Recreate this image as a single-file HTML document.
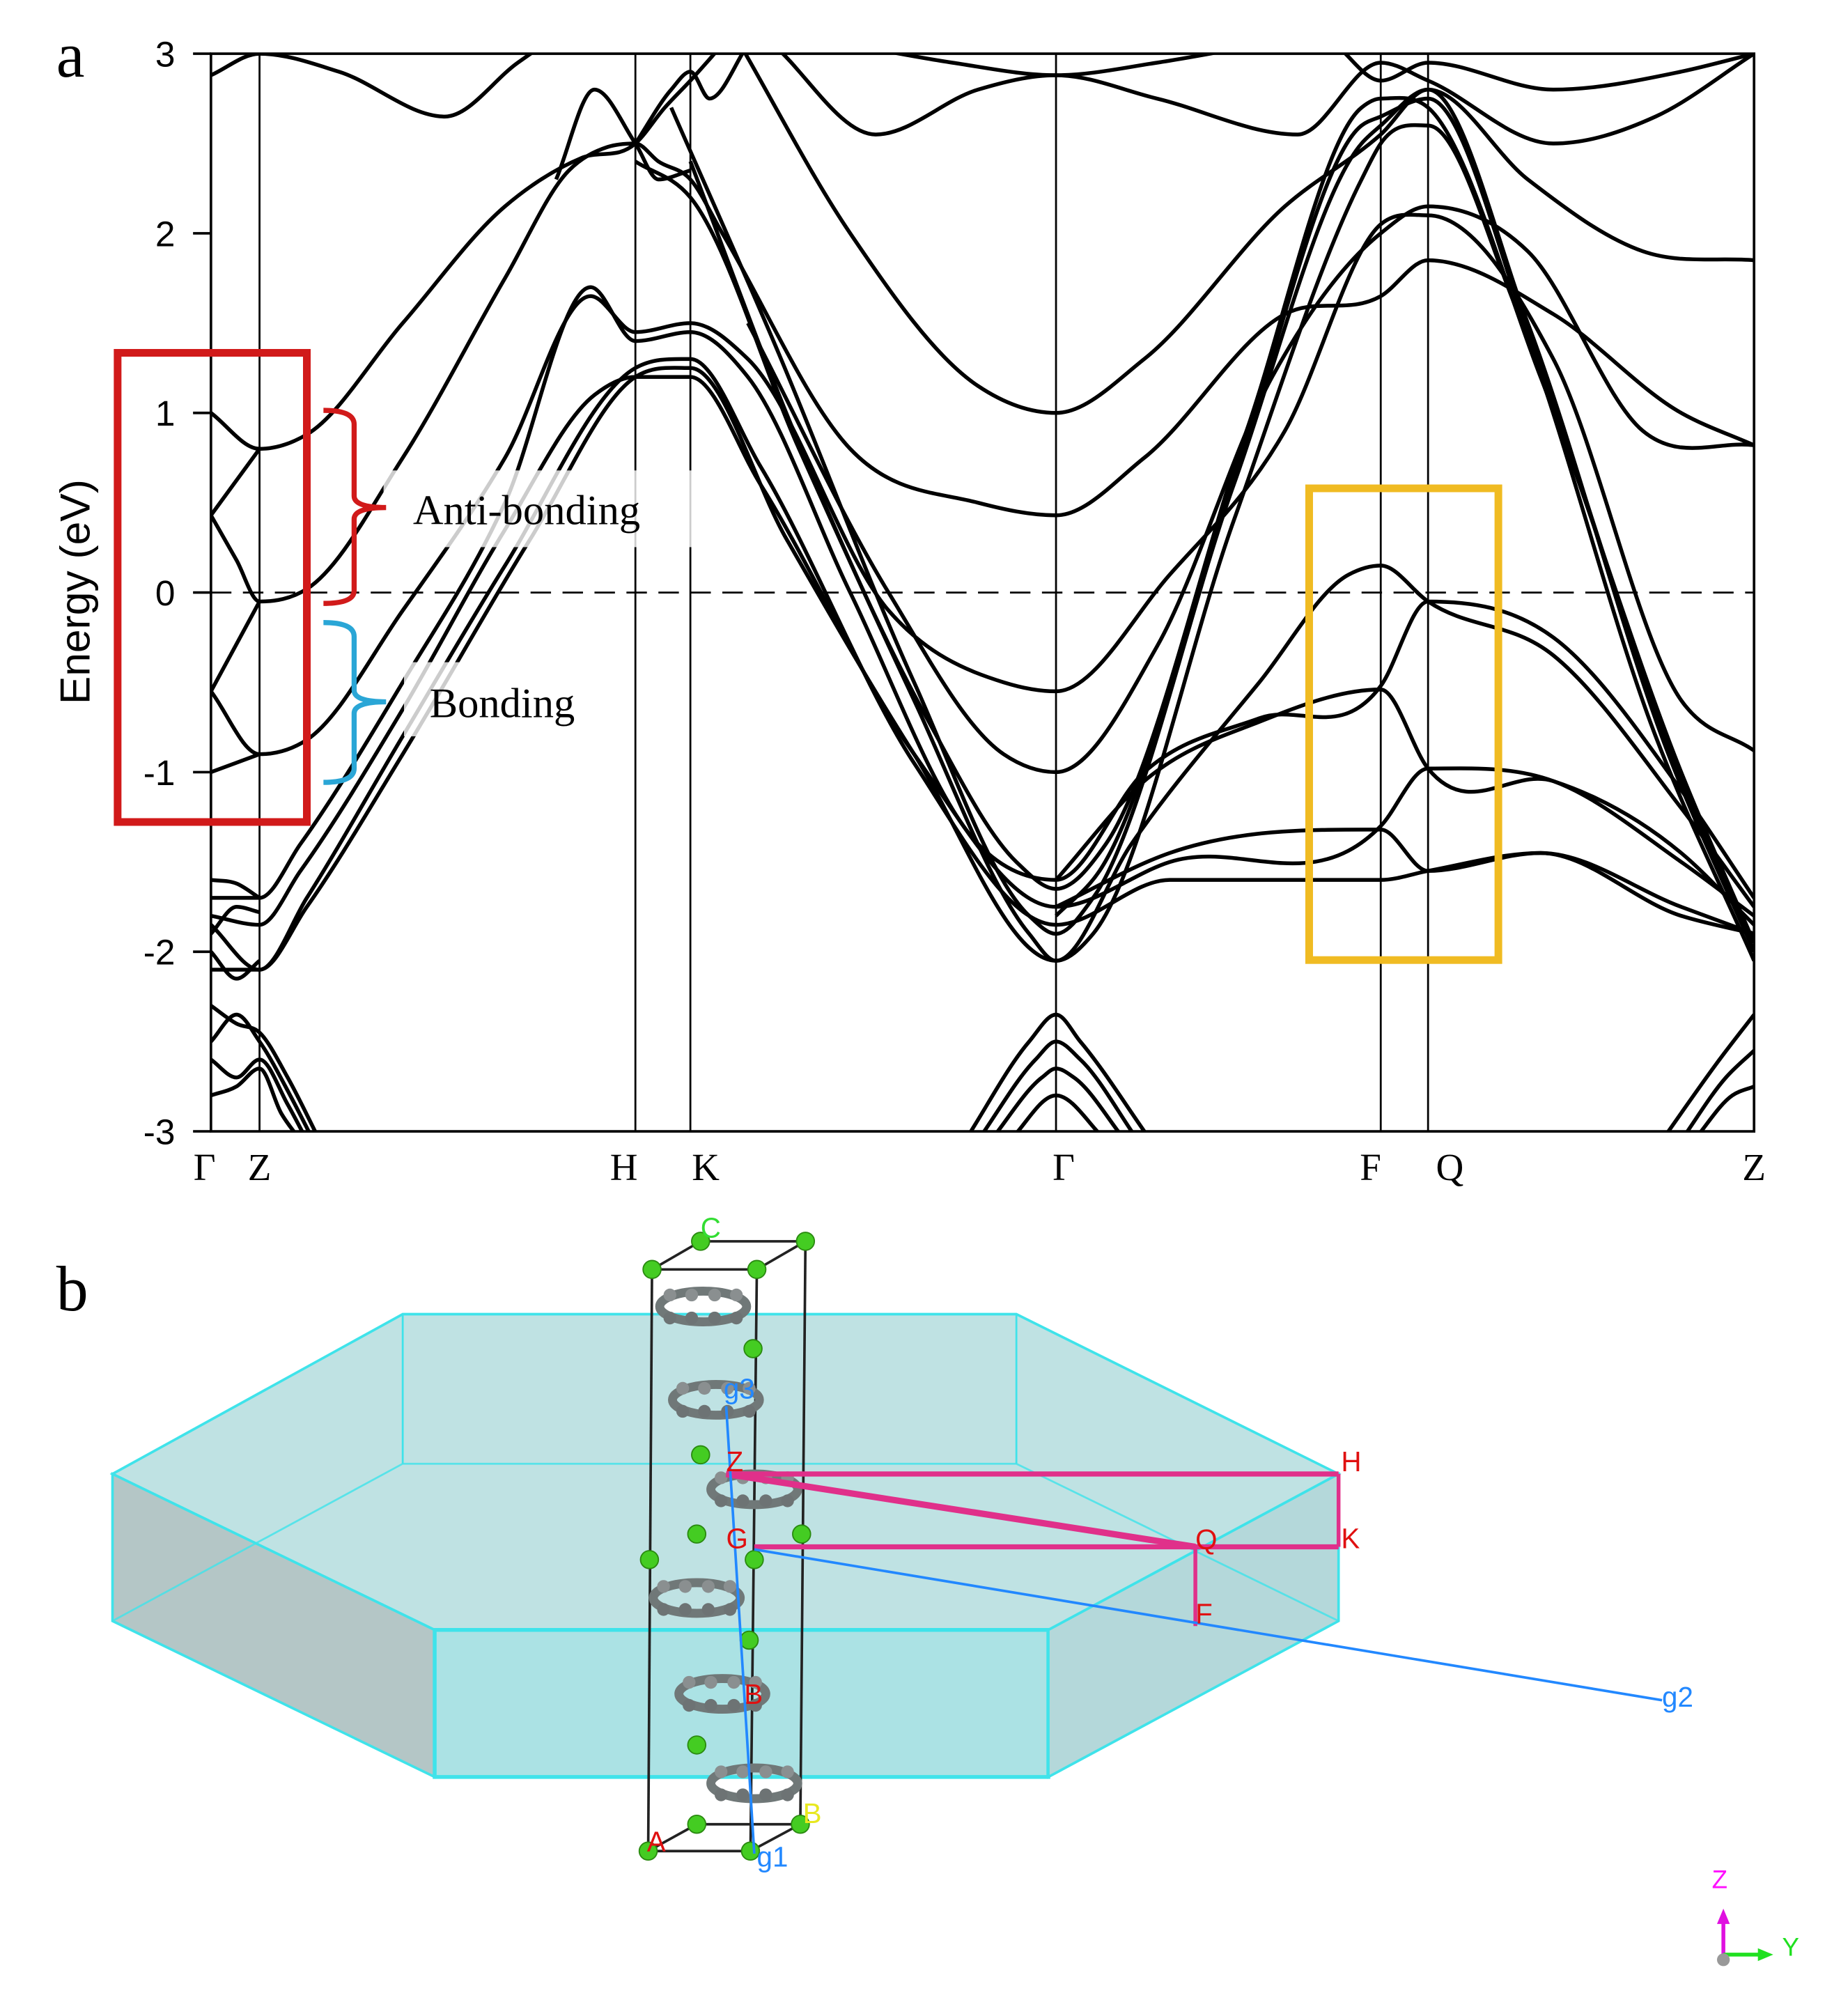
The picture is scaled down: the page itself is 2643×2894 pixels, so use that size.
<!DOCTYPE html>
<html><head><meta charset="utf-8"><style>
html,body{margin:0;padding:0;background:#fff;}
svg{display:block;}
</style></head><body>
<svg id="fig" xmlns="http://www.w3.org/2000/svg" width="2643" height="2894" viewBox="0 0 1440 1577" preserveAspectRatio="none">
<defs><clipPath id="plotclip"><rect x="165" y="42" width="1207" height="843"/></clipPath></defs>
<rect x="0" y="0" width="1440" height="1577" fill="#fff"/>
<g id="chart">
  <text x="44" y="60" font-family="Liberation Serif, serif" font-size="50">a</text>
  <text transform="translate(70,463) rotate(-90)" text-anchor="middle" font-family="Liberation Sans, sans-serif" font-size="33">Energy (eV)</text>
  <g id="bands" clip-path="url(#plotclip)"></g>
  <g id="axes"></g>
</g>

<g id="annotations">
  <rect x="300" y="368" width="242" height="60" fill="#fff" opacity="0.8"/>
  <rect x="316" y="518" width="150" height="58" fill="#fff" opacity="0.8"/>
  <rect x="92" y="276" width="148" height="367" fill="none" stroke="#d11a1a" stroke-width="6"/>
  <rect x="1024" y="382" width="148" height="369" fill="none" stroke="#f0bb22" stroke-width="6"/>
  <path d="M253,321 Q277,321 277,332 L277,388 Q277,397 302,397 Q277,397 277,406 L277,462 Q277,472 253,472" fill="none" stroke="#d11a1a" stroke-width="4"/>
  <path d="M253,487 Q277,487 277,498 L277,540 Q277,549 302,549 Q277,549 277,558 L277,601 Q277,612 253,612" fill="none" stroke="#2aa6d6" stroke-width="4"/>
  <text x="323" y="410" font-family="Liberation Serif, serif" font-size="33">Anti-bonding</text>
  <text x="336" y="561" font-family="Liberation Serif, serif" font-size="33">Bonding</text>
</g>

<g id="panel-b">
  <text x="44" y="1025" font-family="Liberation Serif, serif" font-size="50">b</text>
  <polygon points="88,1153 315,1028 795,1028 1047,1153 820,1275 340,1275" fill="#bfe2e3" stroke="#3fe3ea" stroke-width="2"/>
  <polygon points="88,1153 340,1275 340,1390 88,1268" fill="#b4c6c6" stroke="#3fe3ea" stroke-width="2"/>
  <polygon points="340,1275 820,1275 820,1390 340,1390" fill="#abe2e4" stroke="#3fe3ea" stroke-width="3"/>
  <polygon points="820,1275 1047,1153 1047,1268 820,1390" fill="#b4d8da" stroke="#3fe3ea" stroke-width="2"/>
  <polyline points="88,1268 315,1145 795,1145 1047,1268" fill="none" stroke="#3fe3ea" stroke-width="1.5" opacity="0.8"/>
  <line x1="315" y1="1028" x2="315" y2="1145" stroke="#3fe3ea" stroke-width="1.5"/>
  <line x1="795" y1="1028" x2="795" y2="1145" stroke="#3fe3ea" stroke-width="1.5"/>
  <g stroke="#222" stroke-width="2" fill="none">
    <polygon points="510,993 592,993 630,971 548,971"/>
    <polygon points="507,1448 587,1448 626,1427 545,1427"/>
    <line x1="510" y1="993" x2="507" y2="1448"/><line x1="592" y1="993" x2="587" y2="1448"/><line x1="630" y1="971" x2="626" y2="1427"/>
  </g>
  <g id="molecules"></g>
  <g id="atoms"></g>
  <g stroke="#e0308a" fill="none">
    <line x1="568" y1="1153" x2="1047" y2="1153" stroke-width="4"/>
    <line x1="568" y1="1153" x2="935" y2="1210" stroke-width="5"/>
    <line x1="590" y1="1210" x2="1047" y2="1210" stroke-width="4"/>
    <line x1="1047" y1="1153" x2="1047" y2="1210" stroke-width="3"/>
    <line x1="935" y1="1210" x2="935" y2="1272" stroke-width="3"/>
  </g>
  <line x1="590" y1="1212" x2="1300" y2="1330" stroke="#2288ff" stroke-width="2"/>
  <line x1="568" y1="1100" x2="590" y2="1450" stroke="#2288ff" stroke-width="2"/>
  <g font-family="Liberation Sans, sans-serif" font-size="22">
    <text x="1049" y="1151" fill="#e01010">H</text>
    <text x="1049" y="1211" fill="#e01010">K</text>
    <text x="935" y="1212" fill="#e01010">Q</text>
    <text x="935" y="1270" fill="#e01010">F</text>
    <text x="568" y="1151" fill="#e01010">Z</text>
    <text x="568" y="1211" fill="#e01010">G</text>
    <text x="582" y="1333" fill="#e01010">B</text>
    <text x="1300" y="1335" fill="#2288ff">g2</text>
    <text x="592" y="1460" fill="#2288ff">g1</text>
    <text x="566" y="1094" fill="#2288ff">g3</text>
    <text x="506" y="1448" fill="#e01010">A</text>
    <text x="628" y="1426" fill="#e8e820">B</text>
    <text x="548" y="968" fill="#33dd33">C</text>
  </g>
  <g>
    <text x="1339" y="1477" fill="#ff10ff" font-family="Liberation Sans, sans-serif" font-size="20">Z</text>
    <line x1="1348" y1="1530" x2="1348" y2="1500" stroke="#e010e0" stroke-width="3"/>
    <polygon points="1348,1493 1343,1505 1353,1505" fill="#e010e0"/>
    <line x1="1348" y1="1529" x2="1378" y2="1529" stroke="#20e020" stroke-width="3"/>
    <polygon points="1387,1529 1375,1524 1375,1534" fill="#20e020"/>
    <text x="1394" y="1530" fill="#20e020" font-family="Liberation Sans, sans-serif" font-size="20">Y</text>
    <circle cx="1348" cy="1533" r="5" fill="#999"/>
  </g>
</g>

<script>
// ---- chart data ----
const kTickPos = [0, 0.38, 3.32, 3.75, 6.61, 9.15, 9.52, 12.07];
const kTickLabels = ["Γ", "Z", "H", "K", "Γ", "F", "Q", "Z"];
const yTicks = [3, 2, 1, 0, -1, -2, -3];
const bandTop1 = [[0,2.88],[0.38,3.0],[1.0,2.9],[1.83,2.65],[2.4,2.95],[2.6,3.05]];
const bandA = [[0,1.0],[0.38,0.8],[0.75,0.88],[1.5,1.5],[2.3,2.15],[2.9,2.42],[3.32,2.5],[3.55,2.7],[3.75,2.85],[4.0,3.05]];
const bandShort1 = [[0,0.43],[0.38,0.8]];
const bandB = [[0,0.43],[0.2,0.18],[0.38,-0.05],[0.75,0.02],[1.5,0.75],[2.3,1.75],[2.8,2.35],[3.1,2.48],[3.32,2.5],[3.5,2.4],[3.75,2.3],[4.0,2.0],[5.0,0.8],[6.0,0.5],[6.61,0.43],[7.3,0.75],[8.4,1.55],[9.15,1.65],[9.52,1.85],[10.5,1.55],[11.5,1.0],[12.07,0.82]];
const bandShort2 = [[0,-0.55],[0.38,-0.05]];
const bandC = [[0,-0.55],[0.38,-0.9],[0.75,-0.82],[1.5,-0.1],[2.3,0.75],[2.97,1.65],[3.32,1.45],[3.75,1.5],[4.2,1.3],[5.3,-0.1],[6.2,-0.5],[6.61,-0.55],[7.5,0.1],[8.4,0.9],[9.15,2.05],[9.52,2.1],[10.5,1.3],[11.5,-0.6],[12.07,-0.88]];
const bandShort3 = [[0,-1.0],[0.38,-0.9]];
const bandD = [[0,-1.7],[0.38,-1.7],[0.7,-1.4],[1.5,-0.5],[2.3,0.5],[2.97,1.7],[3.32,1.4],[3.75,1.45],[4.2,1.2],[5.0,0.0],[6.0,-1.4],[6.61,-1.6],[7.3,-1.0],[8.2,-0.7],[9.15,-0.52],[9.52,-0.05],[10.5,-0.25],[11.5,-1.1],[12.07,-1.7]];
const bandD2 = [[6.61,-1.6],[7.3,-1.05],[8.2,-0.72],[9.15,-0.54],[9.52,-0.98],[10.5,-1.05],[11.5,-1.45],[12.07,-1.85]];
const bandE = [[0,-1.8],[0.38,-1.85],[0.7,-1.55],[1.5,-0.65],[2.3,0.35],[3.0,1.1],[3.32,1.2],[3.75,1.2],[4.3,0.6],[5.5,-0.9],[6.61,-1.75],[7.5,-1.5],[9.15,-1.3],[9.52,-0.98],[10.5,-1.05],[11.5,-1.5],[12.07,-1.8]];
const bandE2 = [[6.61,-1.75],[7.5,-1.45],[9.15,-1.32],[9.52,-1.55],[10.4,-1.45],[11.5,-1.75],[12.07,-1.9]];
const bandF = [[0,-1.85],[0.38,-2.1],[0.75,-1.7],[1.5,-0.8],[2.3,0.15],[3.32,1.25],[3.75,1.3],[4.3,0.7],[5.5,-0.95],[6.61,-1.85],[7.5,-1.6],[9.15,-1.6],[9.52,-1.55],[10.4,-1.45],[11.5,-1.8],[12.07,-1.9]];
const bandG = [[0,-2.1],[0.38,-2.1],[0.75,-1.75],[1.5,-0.9],[2.5,0.3],[3.32,1.2],[3.75,1.25],[4.5,0.3],[5.5,-0.9],[6.61,-2.05],[7.2,-1.4],[8.2,-0.5],[8.9,0.1],[9.15,0.15],[9.52,-0.05],[10.5,-0.35],[11.5,-1.2],[12.07,-1.75]];
const bandH = [[3.75,2.4],[4.5,1.0],[5.5,-0.6],[6.4,-1.9],[6.61,-2.05],[6.9,-1.9],[8.0,0.4],[9.0,2.3],[9.15,2.5],[9.52,2.6],[10.2,1.6],[11.3,-0.8],[12.07,-2.05]];
const bandI = [[3.6,2.7],[4.4,1.4],[5.5,-0.5],[6.4,-1.8],[6.61,-1.9],[6.9,-1.7],[8.0,0.6],[9.0,2.5],[9.15,2.6],[9.52,2.8],[10.3,1.5],[11.4,-0.9],[12.07,-2.0]];
const bandJ = [[3.32,2.4],[3.75,2.2],[4.6,0.8],[5.6,-0.7],[6.3,-1.5],[6.61,-1.65],[7.0,-1.4],[8.1,0.9],[9.0,2.7],[9.15,2.75],[9.52,2.7],[10.4,1.2],[11.5,-1.0],[12.07,-1.95]];
const bandJ2 = [[6.61,-1.8],[6.95,-1.55],[8.05,0.75],[9.0,2.6],[9.15,2.65],[9.52,2.75],[10.35,1.35],[11.45,-0.95],[12.07,-2.0]];
const bandK = [[4.1,3.1],[5.0,2.0],[6.0,1.15],[6.61,1.0],[7.3,1.3],[8.4,2.15],[9.15,2.55],[9.52,2.8],[10.3,2.3],[11.2,1.9],[12.07,1.85]];
const bandL = [[4.4,3.05],[5.2,2.55],[6.0,2.8],[6.61,2.88],[7.4,2.75],[8.5,2.55],[9.15,2.95],[9.52,2.85],[10.5,2.5],[11.3,2.65],[12.07,3.0]];
const bandM = [[5.0,3.05],[5.8,2.95],[6.61,2.88],[7.4,2.95],[8.2,3.05]];
const bandN = [[8.8,3.05],[9.15,2.85],[9.52,2.95],[10.5,2.8],[11.5,2.9],[12.07,3.0]];
const bandO = [[3.32,2.5],[3.6,2.8],[3.75,2.9],[3.9,2.75],[4.2,3.05]];
const bandP = [[2.7,2.3],[3.0,2.8],[3.32,2.5],[3.5,2.3],[3.75,2.35]];
const bandQ = [[4.2,1.5],[5.3,0.0],[6.2,-0.9],[6.61,-1.0],[7.4,-0.3],[8.3,1.2],[9.15,2.0],[9.52,2.15],[10.3,1.9],[11.2,0.9],[12.07,0.82]];
const bandGZ1 = [[0,-1.6],[0.2,-1.62],[0.38,-1.7]];
const bandGZ2 = [[0,-1.9],[0.2,-1.75],[0.38,-1.78]];
const bandGZ3 = [[0,-2.0],[0.2,-2.15],[0.38,-2.05]];
const bandV1 = [[0,-2.3],[0.2,-2.4],[0.38,-2.45],[0.6,-2.7],[0.85,-3.05]];
const bandV2 = [[0,-2.5],[0.2,-2.35],[0.38,-2.5],[0.62,-2.8],[0.8,-3.05]];
const bandV3 = [[0,-2.6],[0.2,-2.7],[0.38,-2.6],[0.6,-2.85],[0.75,-3.05]];
const bandV4 = [[0,-2.8],[0.2,-2.75],[0.38,-2.65],[0.55,-2.9],[0.7,-3.05]];
const bandV5 = [[5.9,-3.05],[6.4,-2.5],[6.61,-2.35],[6.8,-2.5],[7.35,-3.05]];
const bandV6 = [[6.0,-3.05],[6.45,-2.6],[6.61,-2.5],[6.8,-2.6],[7.25,-3.05]];
const bandV7 = [[6.1,-3.05],[6.5,-2.7],[6.61,-2.65],[6.75,-2.7],[7.15,-3.05]];
const bandV8 = [[6.25,-3.05],[6.61,-2.8],[7.0,-3.05]];
const bandV9 = [[11.35,-3.05],[11.8,-2.6],[12.07,-2.35]];
const bandV10 = [[11.5,-3.05],[11.85,-2.7],[12.07,-2.55]];
const bandV11 = [[11.6,-3.05],[11.9,-2.8],[12.07,-2.75]];

const allBands = [bandTop1,bandA,bandShort1,bandB,bandShort2,bandC,bandShort3,bandD,bandD2,bandE,bandE2,bandF,bandG,bandH,bandI,bandJ,bandJ2,bandK,bandL,bandM,bandN,bandO,bandP,bandQ,bandGZ1,bandGZ2,bandGZ3,bandV1,bandV2,bandV3,bandV4,bandV5,bandV6,bandV7,bandV8,bandV9,bandV10,bandV11];

const NS = "http://www.w3.org/2000/svg";
const X0 = 165, X1 = 1372, Y0 = 42, Y1 = 885;
const kMin = 0, kMax = 12.07, eMin = -3, eMax = 3;
function xScale(k){ return X0 + (k - kMin) / (kMax - kMin) * (X1 - X0); }
function yScale(e){ return Y1 - (e - eMin) / (eMax - eMin) * (Y1 - Y0); }
function mk(tag, attrs, parent){ const el = document.createElementNS(NS, tag); for (const a in attrs) el.setAttribute(a, attrs[a]); parent.appendChild(el); return el; }

// cubic Hermite with non-uniform spacing (no overshoot across short segments)
function smoothPath(pts){
  const p = pts.map(d => [xScale(d[0]), yScale(d[1])]);
  const n = p.length;
  const sec = [];
  for (let i = 0; i < n - 1; i++) sec.push((p[i+1][1]-p[i][1]) / (p[i+1][0]-p[i][0]));
  const m = [];
  for (let i = 0; i < n; i++){
    if (i === 0) m.push(sec[0]);
    else if (i === n - 1) m.push(sec[n-2]);
    else if (sec[i-1] * sec[i] <= 0) m.push(0);
    else { const h0 = p[i][0]-p[i-1][0], h1 = p[i+1][0]-p[i][0]; m.push((sec[i-1]*h1 + sec[i]*h0)/(h0+h1)); }
  }
  let d = "M" + p[0][0] + "," + p[0][1];
  for (let i = 0; i < n - 1; i++){
    const h = (p[i+1][0]-p[i][0]) / 3;
    d += " C" + (p[i][0]+h) + "," + (p[i][1]+m[i]*h) + " " + (p[i+1][0]-h) + "," + (p[i+1][1]-m[i+1]*h) + " " + p[i+1][0] + "," + p[i+1][1];
  }
  return d;
}

const bandsG = document.getElementById("bands");
const axesG = document.getElementById("axes");

allBands.forEach(function(b){
  const path = mk("path", {d: smoothPath(b), fill: "none", stroke: "#000", "stroke-width": 3, "stroke-linejoin": "round"}, bandsG);
  
  
});

const fermi = mk("line", {x1: X0, x2: X1, y1: yScale(0), y2: yScale(0), stroke: "#000", "stroke-width": 1.5, "stroke-dasharray": "16,9"}, axesG);



kTickPos.forEach(function(k, i){
  if (i > 0 && i < kTickPos.length - 1){
    const ln = mk("line", {x1: xScale(k), x2: xScale(k), y1: Y0, y2: Y1, stroke: "#000", "stroke-width": 1.5}, axesG);
    
    
  }
  const dx = (i === 0) ? -5 : (i === 2 ? -9 : (i === 3 ? 12 : (i === 4 ? 6 : (i === 5 ? -8 : (i === 6 ? 17 : 0)))));
  const t = mk("text", {x: xScale(k) + dx, y: 923, "text-anchor": "middle", "font-family": "Liberation Serif, serif", "font-size": 30}, axesG);
  t.textContent = kTickLabels[i];
  
  
});

const frame = mk("rect", {x: X0, y: Y0, width: X1 - X0, height: Y1 - Y0, fill: "none", stroke: "#000", "stroke-width": 2}, axesG);



yTicks.forEach(function(v){
  const tk = mk("line", {x1: X0 - 14, x2: X0, y1: yScale(v), y2: yScale(v), stroke: "#000", "stroke-width": 2}, axesG);
  
  
  const t = mk("text", {x: 137, y: yScale(v) + 10, "text-anchor": "end", "font-family": "Liberation Sans, sans-serif", "font-size": 28}, axesG);
  t.textContent = String(v);
  
  
});

// ---- panel b decorations ----
const molG = document.getElementById("molecules");
[[550,1022],[560,1095],[590,1165],[545,1250],[565,1325],[590,1395]].forEach(function(c){
  const g = mk("g", {}, molG);
  
  
  mk("ellipse", {cx: c[0], cy: c[1], rx: 34, ry: 12, fill: "none", stroke: "#707878", "stroke-width": 7}, g);
  [-26,-9,9,26].forEach(function(dx){ mk("circle", {cx: c[0]+dx, cy: c[1]-9, r: 5, fill: "#8a8f90"}, g); mk("circle", {cx: c[0]+dx, cy: c[1]+9, r: 5, fill: "#6d7374"}, g); });
});
const atomG = document.getElementById("atoms");
[[510,993],[592,993],[630,971],[548,971],[589,1055],[548,1138],[627,1200],[545,1200],[508,1220],[590,1220],[586,1283],[545,1365],[507,1448],[587,1448],[626,1427],[545,1427]].forEach(function(c){
  const a = mk("circle", {cx: c[0], cy: c[1], r: 7, fill: "#44cc22", stroke: "#2a8a10", "stroke-width": 1}, atomG);
  
  
});
</script>
</svg>
</body></html>
